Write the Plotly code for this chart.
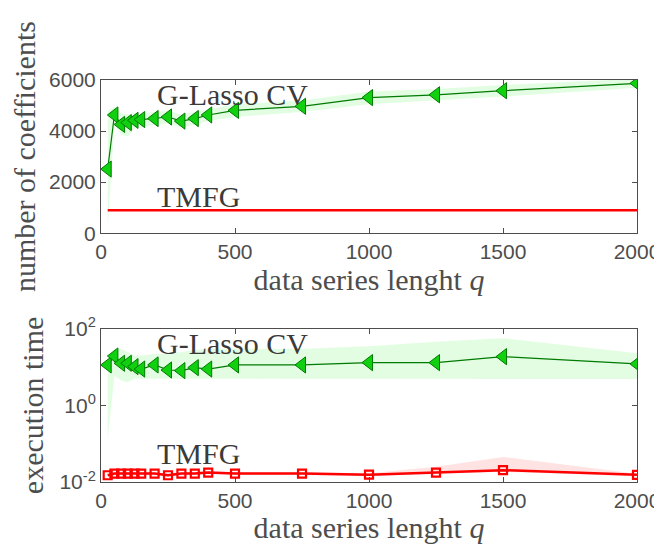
import plotly.graph_objects as go

q = [25, 50, 75, 100, 125, 150, 200, 250, 300, 350, 400, 500, 750, 1000, 1250, 1500, 2000]

# number of coefficients
glasso_coef = [2510, 4630, 4260, 4330, 4420, 4450, 4490, 4550, 4390, 4490, 4630, 4810, 4970, 5310, 5420, 5580, 5870]
glasso_coef_up = [4800, 4950, 4700, 4650, 4700, 4700, 4750, 4800, 4650, 4750, 4850, 5050, 5200, 5550, 5650, 5800, 6050]
glasso_coef_lo = [200, 4300, 3850, 3800, 4100, 4150, 4250, 4300, 4150, 4250, 4400, 4550, 4750, 5050, 5200, 5350, 5700]
tmfg_coef = [900] * len(q)

# execution time
glasso_time = [11.4, 19.5, 12.6, 12.6, 10.3, 8.9, 11.4, 8.4, 8.1, 9.7, 8.9, 11.4, 11.4, 13.1, 13.1, 18.8, 12.1]
glasso_time_up = [14, 30, 30, 25, 20, 20, 22, 22, 25, 28, 30, 30, 30, 35, 46, 57, 23]
glasso_time_lo = [0.13, 6, 4.5, 4, 5, 5, 5, 5, 5, 5, 5, 5, 5, 5.1, 5.1, 5.0, 4.9]
tmfg_time = [0.015, 0.0166, 0.0166, 0.0166, 0.0166, 0.0166, 0.0166, 0.015, 0.0166, 0.0166, 0.0176, 0.0166, 0.0166, 0.0155, 0.0176, 0.0204, 0.0154]
tmfg_time_up = [0.0165, 0.018, 0.018, 0.018, 0.018, 0.018, 0.018, 0.0165, 0.018, 0.018, 0.019, 0.018, 0.018, 0.017, 0.025, 0.045, 0.0165]
tmfg_time_lo = [0.0138, 0.0152, 0.0152, 0.0152, 0.0152, 0.0152, 0.0152, 0.0138, 0.0152, 0.0152, 0.0162, 0.0152, 0.0152, 0.0143, 0.0162, 0.0185, 0.0142]

xticks = [0, 500, 1000, 1500, 2000]
ytick_coef = [0, 2000, 4000, 6000]
ytick_time = [0.01, 1, 100]
ytick_time_text = ["10<sup>-2</sup>", "10<sup>0</sup>", "10<sup>2</sup>"]

GREEN_FILL = "rgba(80,240,80,0.16)"
RED_FILL = "rgba(255,80,80,0.16)"
DKGREEN = "#007a00"
LTGREEN = "#10d010"
RED = "#ff0000"
SERIF = "Liberation Serif, serif"
SANS = "Liberation Sans, Arial, sans-serif"
AXC = "#4d4d4d"
TXT = "#3a3a3a"

fig = go.Figure()

# top panel
fig.add_trace(go.Scatter(x=q, y=glasso_coef_lo, mode="lines", line=dict(width=0), showlegend=False,
                         xaxis="x", yaxis="y", hoverinfo="skip"))
fig.add_trace(go.Scatter(x=q, y=glasso_coef_up, mode="lines", line=dict(width=0), fill="tonexty",
                         fillcolor=GREEN_FILL, showlegend=False, xaxis="x", yaxis="y", hoverinfo="skip"))
fig.add_trace(go.Scatter(x=q, y=tmfg_coef, mode="lines", line=dict(color=RED, width=2.5),
                         showlegend=False, xaxis="x", yaxis="y"))
fig.add_trace(go.Scatter(x=q, y=glasso_coef, mode="lines+markers", line=dict(color=DKGREEN, width=1.2),
                         marker=dict(symbol="triangle-left", size=14, color=LTGREEN,
                                     line=dict(color=DKGREEN, width=1)),
                         showlegend=False, xaxis="x", yaxis="y"))

# bottom panel
fig.add_trace(go.Scatter(x=q, y=glasso_time_lo, mode="lines", line=dict(width=0), showlegend=False,
                         xaxis="x2", yaxis="y2", hoverinfo="skip"))
fig.add_trace(go.Scatter(x=q, y=glasso_time_up, mode="lines", line=dict(width=0), fill="tonexty",
                         fillcolor=GREEN_FILL, showlegend=False, xaxis="x2", yaxis="y2", hoverinfo="skip"))
fig.add_trace(go.Scatter(x=q, y=tmfg_time_lo, mode="lines", line=dict(width=0), showlegend=False,
                         xaxis="x2", yaxis="y2", hoverinfo="skip"))
fig.add_trace(go.Scatter(x=q, y=tmfg_time_up, mode="lines", line=dict(width=0), fill="tonexty",
                         fillcolor=RED_FILL, showlegend=False, xaxis="x2", yaxis="y2", hoverinfo="skip"))
fig.add_trace(go.Scatter(x=q, y=glasso_time, mode="lines+markers", line=dict(color=DKGREEN, width=1.2),
                         marker=dict(symbol="triangle-left", size=14, color=LTGREEN,
                                     line=dict(color=DKGREEN, width=1)),
                         showlegend=False, xaxis="x2", yaxis="y2"))
fig.add_trace(go.Scatter(x=q, y=tmfg_time, mode="lines+markers", line=dict(color=RED, width=2.5),
                         marker=dict(symbol="square-open", size=8, color=RED, line=dict(width=2.2)),
                         showlegend=False, xaxis="x2", yaxis="y2"))

axis_common = dict(showline=True, mirror="ticks", linecolor=AXC, linewidth=1, ticks="inside",
                   ticklen=5, tickcolor=AXC, showgrid=False, zeroline=False, automargin=False,
                   tickfont=dict(family=SANS, size=21, color=AXC))
title_font = dict(family=SERIF, size=30, color=AXC)
ann_font = dict(family=SERIF, size=30, color=TXT)

fig.update_layout(
    width=654, height=536,
    margin=dict(l=93, r=25, t=72, b=62),
    paper_bgcolor="white", plot_bgcolor="white",
    xaxis=dict(domain=[0, 1], range=[0, 2000], tickvals=xticks, anchor="y",
               title=dict(text="data series lenght <i>q</i>", font=title_font, standoff=2), **axis_common),
    yaxis=dict(domain=[0.619, 1], range=[0, 6000], tickvals=ytick_coef, anchor="x",
               title=dict(text="number of coefficients", font=title_font, standoff=6), **axis_common),
    xaxis2=dict(domain=[0, 1], range=[0, 2000], tickvals=xticks, anchor="y2",
                title=dict(text="data series lenght <i>q</i>", font=title_font, standoff=2), **axis_common),
    yaxis2=dict(domain=[0, 0.381], type="log", range=[-2, 2], tickvals=ytick_time,
                ticktext=ytick_time_text, anchor="x2",
                title=dict(text="execution time", font=title_font, standoff=6), **axis_common),
    annotations=[
        dict(x=200, y=5450, xref="x", yref="y", text="G-Lasso CV", showarrow=False, xanchor="left",
             yanchor="middle", font=ann_font),
        dict(x=200, y=1420, xref="x", yref="y", text="TMFG", showarrow=False, xanchor="left",
             yanchor="middle", font=ann_font),
        dict(x=200, y=1.63, xref="x2", yref="y2", text="G-Lasso CV", showarrow=False, xanchor="left",
             yanchor="middle", font=ann_font),
        dict(x=200, y=-1.25, xref="x2", yref="y2", text="TMFG", showarrow=False, xanchor="left",
             yanchor="middle", font=ann_font),
    ],
)

fig.write_html("out.html")
